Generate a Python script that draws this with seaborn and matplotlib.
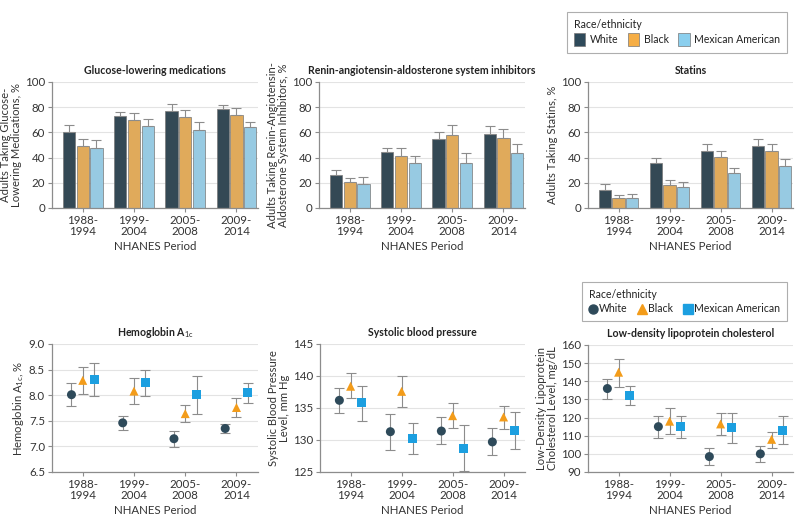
import numpy as np
import pandas as pd
import matplotlib
matplotlib.use("Agg")
import matplotlib.pyplot as plt
from matplotlib.patches import Patch
from matplotlib.lines import Line2D
import seaborn as sns

periods = ["1988-\n1994", "1999-\n2004", "2005-\n2008", "2009-\n2014"]
races = ["White", "Black", "Mexican American"]

# medication use (%), bar value and upper CI
gluc_val = {"White": [60, 73, 77, 78.5], "Black": [49, 69.5, 72.5, 73.5], "Mexican American": [48, 65, 62, 64]}
gluc_up = {"White": [65.5, 76.5, 82.5, 82], "Black": [54.5, 75.5, 77.5, 79], "Mexican American": [54, 71, 68.5, 68.5]}
raas_val = {"White": [26, 44.5, 54.5, 59], "Black": [20.5, 41.5, 58, 55.5], "Mexican American": [19, 35.5, 36, 43.5]}
raas_up = {"White": [30.5, 48, 60.5, 65], "Black": [24, 48, 65.5, 62.5], "Mexican American": [25, 41.5, 44, 51]}
stat_val = {"White": [14, 36, 45.5, 49.5], "Black": [8, 18.5, 40.5, 45], "Mexican American": [8, 17, 28, 33]}
stat_up = {"White": [19, 40, 50.5, 55], "Black": [10.5, 22, 45.5, 51], "Mexican American": [11.5, 21, 31.5, 38.5]}

# risk factor levels: mean, lower CI, upper CI
hba_val = {"White": [8.01, 7.46, 7.15, 7.35], "Black": [8.29, 8.08, 7.64, 7.76], "Mexican American": [8.31, 8.25, 8.01, 8.05]}
hba_lo = {"White": [7.78, 7.33, 6.99, 7.27], "Black": [8.02, 7.83, 7.47, 7.58], "Mexican American": [7.99, 7.99, 7.63, 7.85]}
hba_hi = {"White": [8.23, 7.60, 7.30, 7.43], "Black": [8.56, 8.34, 7.81, 7.95], "Mexican American": [8.62, 8.50, 8.38, 8.24]}
sbp_val = {"White": [136.2, 131.3, 131.4, 129.7], "Black": [138.4, 137.6, 133.8, 133.6], "Mexican American": [135.8, 130.2, 128.7, 131.5]}
sbp_lo = {"White": [134.2, 128.5, 129.3, 127.6], "Black": [136.5, 135.2, 131.8, 131.7], "Mexican American": [133.0, 127.8, 125.2, 128.6]}
sbp_hi = {"White": [138.2, 134.0, 133.6, 131.8], "Black": [140.4, 140.0, 135.8, 135.3], "Mexican American": [138.5, 132.6, 132.3, 134.3]}
ldl_val = {"White": [136, 115, 98.5, 100], "Black": [145, 118, 116.5, 108], "Mexican American": [132, 115, 114.5, 113]}
ldl_lo = {"White": [130.5, 109, 94, 95.5], "Black": [137, 111, 110.5, 103.5], "Mexican American": [127, 109, 106, 105.5]}
ldl_hi = {"White": [141, 121, 103.5, 104.5], "Black": [152.5, 125, 122.5, 112], "Mexican American": [137.5, 121, 122.5, 121]}

bar_colors = {"White": "#2E4A5A", "Black": "#F6AE45", "Mexican American": "#8BCFEE"}
pt_colors = {"White": "#2E4A5A", "Black": "#F39C1A", "Mexican American": "#1C9FE0"}
markers = {"White": "o", "Black": "^", "Mexican American": "s"}

sns.set_theme(style="white")
plt.rcParams["font.family"] = ["Lato", "DejaVu Sans"]
plt.rcParams["mathtext.fontset"] = "custom"
plt.rcParams["mathtext.rm"] = "Lato"
plt.rcParams["text.color"] = "#222222"

FS = 8.3
TFS = 7.6
LFS = 7.6
GRAY = "#8c8c8c"
fig = plt.figure(figsize=(8, 5.22), dpi=100)


def style_ax(ax, ylim, yticks, fmt, ylabel, title):
    ax.set_xlim(-0.6, 3.42)
    ax.set_ylim(*ylim)
    ax.set_yticks(yticks)
    ax.set_yticklabels([fmt.format(t) for t in yticks], fontsize=FS, color="#333333")
    ax.set_xticks(range(4))
    ax.set_xticklabels(periods, fontsize=FS, color="#333333", linespacing=1.0)
    ax.set_xlabel("NHANES Period", fontsize=FS, color="#333333", labelpad=3)
    ax.set_ylabel(ylabel, fontsize=8.1, color="#333333", linespacing=0.95, labelpad=2)
    ax.set_title(title, fontsize=TFS, fontweight="bold", pad=6)
    ax.yaxis.grid(True, color="#e3e3e3", lw=0.8)
    ax.set_axisbelow(True)
    for s in ["top", "right"]:
        ax.spines[s].set_visible(False)
    for s in ["left", "bottom"]:
        ax.spines[s].set_color(GRAY)
        ax.spines[s].set_linewidth(0.9)
    ax.tick_params(axis="both", length=3, width=0.8, color=GRAY, pad=2, left=True, bottom=True)


def bar_panel(rect, vals, ups, ylabel, title):
    ax = fig.add_axes(rect)
    rows = []
    for r in races:
        for i, p in enumerate(periods):
            rows.append({"period": p, "race": r, "value": vals[r][i]})
    df = pd.DataFrame(rows)
    sns.barplot(data=df, x="period", y="value", hue="race", hue_order=races, order=periods,
                palette=bar_colors, errorbar=None, width=0.8, gap=0.1, legend=False,
                edgecolor="#777777", linewidth=0.5, ax=ax)
    w = 0.8 / 3
    for j, r in enumerate(races):
        x = np.arange(4) + (j - 1) * w
        v = np.array(vals[r])
        up = np.array(ups[r]) - v
        ax.errorbar(x, v, yerr=[np.zeros(4), up], fmt="none", ecolor=GRAY,
                    elinewidth=0.8, capsize=3.5, capthick=0.8, zorder=1)
    style_ax(ax, (0, 100), [0, 20, 40, 60, 80, 100], "{:.0f}", ylabel, title)
    return ax


def point_panel(rect, vals, los, his, ylim, yticks, fmt, ylabel, title):
    ax = fig.add_axes(rect)
    offs = {"White": -0.22, "Black": 0.0, "Mexican American": 0.22}
    for r in races:
        x = np.arange(4) + offs[r]
        v = np.array(vals[r])
        ax.errorbar(x, v, yerr=[v - np.array(los[r]), np.array(his[r]) - v], fmt="none",
                    ecolor=GRAY, elinewidth=0.8, capsize=3.5, capthick=0.8, zorder=2)
        sns.scatterplot(x=x, y=v, marker=markers[r], color=pt_colors[r], s=42,
                        edgecolor="none", linewidth=0, zorder=3, ax=ax)
    style_ax(ax, ylim, yticks, fmt, ylabel, title)
    return ax


W, H = 800, 522
def rect(l, t, r, b):
    return [l / W, 1 - b / H, (r - l) / W, (b - t) / H]

bar_panel(rect(52, 82, 258, 208), gluc_val, gluc_up,
          "Adults Taking Glucose-\nLowering Medications, %", "Glucose-lowering medications")
bar_panel(rect(319, 82, 525, 208), raas_val, raas_up,
          "Adults Taking Renin-Angiotensin-\nAldosterone System Inhibitors, %",
          "Renin-angiotensin-aldosterone system inhibitors")
bar_panel(rect(588, 82, 793, 208), stat_val, stat_up,
          "Adults Taking Statins, %", "Statins")

point_panel(rect(52, 344, 258, 472), hba_val, hba_lo, hba_hi, (6.5, 9.0),
            [6.5, 7.0, 7.5, 8.0, 8.5, 9.0], "{:.1f}",
            r"Hemoglobin A$_{\mathrm{1c}}$, %", r"Hemoglobin A$_{\mathrm{1c}}$")
point_panel(rect(320, 344, 525, 472), sbp_val, sbp_lo, sbp_hi, (125, 145),
            [125, 130, 135, 140, 145], "{:.0f}",
            "Systolic Blood Pressure\nLevel, mm Hg", "Systolic blood pressure")
point_panel(rect(588, 345, 793, 472), ldl_val, ldl_lo, ldl_hi, (90, 160),
            [90, 100, 110, 120, 130, 140, 150, 160], "{:.0f}",
            "Low-Density Lipoprotein\nCholesterol Level, mg/dL", "Low-density lipoprotein cholesterol")

# legends
bar_handles = [Patch(facecolor=bar_colors[r], edgecolor="#777777", linewidth=0.5, label=r) for r in races]
leg1 = fig.legend(handles=bar_handles, title="Race/ethnicity", ncol=3, loc="upper right",
                  bbox_to_anchor=(792 / W, 1 - 7 / H), frameon=True, fancybox=False,
                  fontsize=LFS, title_fontsize=LFS, alignment="left", handlelength=1.1,
                  handleheight=1.5, handletextpad=0.4, columnspacing=0.9, borderpad=0.65,
                  labelspacing=0.3)
leg1.get_frame().set_edgecolor("#9a9a9a")
leg1.get_frame().set_linewidth(0.8)

pt_handles = [Line2D([], [], marker=markers[r], color=pt_colors[r], linestyle="none",
                     markersize=6.5, label=r) for r in races]
leg2 = fig.legend(handles=pt_handles, title="Race/ethnicity", ncol=3, loc="upper right",
                  bbox_to_anchor=(792 / W, 1 - 277 / H), frameon=True, fancybox=False,
                  fontsize=LFS, title_fontsize=LFS, alignment="left", handlelength=0.7,
                  handletextpad=0.25, columnspacing=1.0, borderpad=0.65, labelspacing=0.3)
leg2.get_frame().set_edgecolor("#9a9a9a")
leg2.get_frame().set_linewidth(0.8)

fig.savefig("out.png", dpi=100, facecolor="white")
